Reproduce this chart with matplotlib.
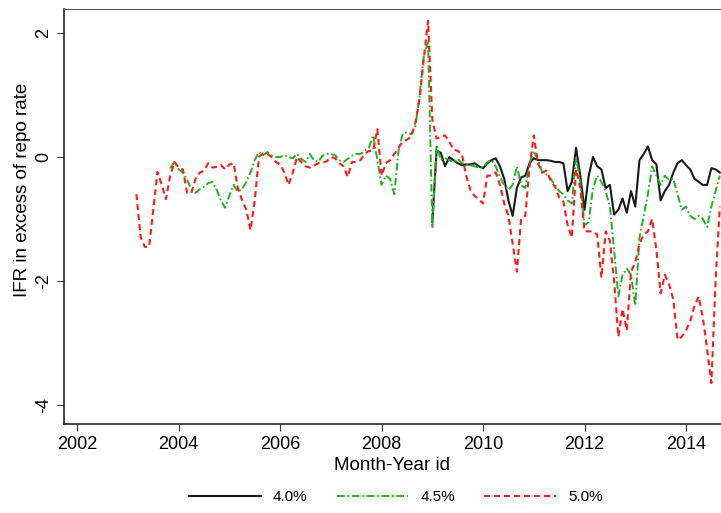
import numpy as np
import matplotlib
matplotlib.use('Agg')
from matplotlib import pyplot as plt

plt.rcParams['font.family'] = ['Liberation Sans', 'DejaVu Sans']
plt.rcParams['lines.scale_dashes'] = False

# month index counted from Jan 2002 (n -> 2002 + n/12)
red_start = 14
red_vals = [
    -0.60, -1.29, -1.45, -1.45, -0.85, -0.24, -0.45, -0.68, -0.30, -0.08,
    -0.17, -0.20, -0.58, -0.58, -0.35, -0.25, -0.22, -0.10, -0.17, -0.16,
    -0.13, -0.20, -0.12, -0.10, -0.50, -0.70, -0.85, -1.18, -0.70, 0.00,
    0.06, 0.05, 0.00, -0.08, -0.12, -0.25, -0.45, -0.25, 0.00, -0.08,
    -0.15, -0.17, -0.14, -0.10, -0.09, -0.07, 0.00, -0.02, -0.10, -0.15,
    -0.32, -0.08, -0.08, -0.05, 0.05, 0.10, 0.10, 0.45, -0.30, -0.10,
    -0.05, 0.05, 0.15, 0.25, 0.28, 0.33, 0.55, 0.95, 1.60, 2.20,
    0.60, 0.30, 0.32, 0.35, 0.25, 0.12, 0.10, 0.05, -0.30, -0.53,
    -0.63, -0.68, -0.75, -0.30, -0.30, -0.25, -0.45, -0.75, -0.95, -1.40,
    -1.85, -1.00, -0.95, -0.15, 0.35, -0.10, -0.25, -0.22, -0.38, -0.48,
    -0.65, -0.72, -1.10, -1.30, -0.20, -0.50, -1.20, -1.20, -1.20, -1.25,
    -1.95, -1.20, -1.35, -2.00, -2.90, -2.45, -2.80, -1.85, -1.70, -1.40,
    -1.25, -1.20, -1.00, -1.50, -2.20, -1.90, -2.05, -2.30, -2.95, -2.90,
    -2.80, -2.65, -2.40, -2.25, -2.60, -3.10, -3.65, -2.00, -0.80,
]

green_start = 22
green_vals = [
    -0.18, -0.08, -0.20, -0.25, -0.37, -0.52, -0.58, -0.52, -0.48, -0.42,
    -0.40, -0.53, -0.70, -0.82, -0.62, -0.45, -0.56, -0.52, -0.40, -0.25,
    -0.05, 0.08, 0.03, 0.08, 0.03, 0.00, 0.00, 0.03, 0.00, -0.02,
    0.05, -0.03, -0.08, 0.05, -0.05, -0.08, 0.02, 0.05, 0.05, 0.03,
    -0.05, -0.08, -0.03, 0.02, 0.05, 0.05, 0.10, 0.15, 0.35, -0.05,
    -0.45, -0.30, -0.35, -0.60, 0.10, 0.38, 0.40, 0.37, 0.50, 1.00,
    1.65, 1.85, -1.15, 0.20, -0.05, -0.02, -0.05, -0.08, -0.03, -0.10,
    -0.12, -0.13, -0.15, -0.17, -0.17, -0.08, -0.05, -0.15, -0.33, -0.45,
    -0.53, -0.45, -0.15, -0.45, -0.50, -0.10, 0.10, -0.05, -0.25, -0.28,
    -0.35, -0.45, -0.55, -0.60, -0.70, -0.75, 0.00, -0.40, -1.10, -1.05,
    -0.50, -0.30, -0.40, -0.55, -0.80, -1.50, -2.25, -1.90, -1.80, -1.90,
    -2.40, -1.30, -0.95, -0.60, -0.15, -0.30, -0.45, -0.30, -0.37, -0.35,
    -0.60, -0.85, -0.80, -0.95, -1.00, -0.95, -1.00, -1.13, -0.80, -0.55,
    -0.30,
]

black_start = 84
black_vals = [
    -1.05, 0.10, 0.07, -0.15, 0.00, -0.05, -0.10, -0.13, -0.12, -0.12,
    -0.10, -0.15, -0.18, -0.10, -0.05, -0.02, -0.15, -0.35, -0.70, -0.95,
    -0.50, -0.33, -0.30, -0.10, -0.02, -0.05, -0.05, -0.05, -0.06, -0.08,
    -0.08, -0.10, -0.55, -0.40, 0.15, -0.30, -0.85, -0.30, 0.00, -0.15,
    -0.20, -0.50, -0.45, -0.93, -0.85, -0.67, -0.90, -0.55, -0.80, -0.05,
    0.05, 0.17, -0.05, -0.12, -0.70, -0.55, -0.45, -0.25, -0.10, -0.05,
    -0.13, -0.20, -0.35, -0.40, -0.45, -0.45, -0.18, -0.20, -0.25,
]

series_labels = ['4.0%', '4.5%', '5.0%']
x_ticks = [2002, 2004, 2006, 2008, 2010, 2012, 2014]
y_ticks = [-4, -2, 0, 2]


def month_axis(start, vals):
    return 2002 + (start + np.arange(len(vals))) / 12.0


fig = plt.figure(figsize=(7.21, 5.13), dpi=100)
ax = fig.add_axes([64 / 721, 89 / 513, 1 - 64 / 721, 415 / 513])

l1, = ax.plot(month_axis(black_start, black_vals), black_vals,
              color='#1a1a1a', lw=1.5, label=series_labels[0])
l2, = ax.plot(month_axis(green_start, green_vals), green_vals,
              color='#1fb01f', lw=1.4, dashes=(5.5, 2.0, 1.2, 2.0),
              label=series_labels[1])
l3, = ax.plot(month_axis(red_start, red_vals), red_vals,
              color='#ff1a1a', lw=1.5, dashes=(4.3, 2.9),
              label=series_labels[2])

ax.set_xlim(2001.74, 2014.69)
ax.set_ylim(-4.31, 2.39)
ax.set_xticks(x_ticks)
ax.set_yticks(y_ticks)
ax.set_yticklabels([str(v) for v in y_ticks], rotation=90, va='center')
ax.tick_params(labelsize=13, length=5, width=0.8, color='#333333')

ax.spines['right'].set_visible(False)
ax.spines['top'].set_color('#555555')
for s in ['left', 'bottom']:
    ax.spines[s].set_linewidth(1.2)
    ax.spines[s].set_color('#222222')

ax.set_xlabel('Month-Year id', fontsize=13.5, labelpad=3)
ax.set_ylabel('IFR in excess of repo rate', fontsize=13.5)
ax.yaxis.set_label_coords(-0.05, 0.565)

fig.legend(handles=[l1, l2, l3], loc='center', bbox_to_anchor=(0.549, 1 - 497 / 513),
           ncol=3, frameon=False, fontsize=11, handlelength=4.7,
           handletextpad=0.8, columnspacing=1.9)

fig.savefig('out.png', dpi=100)
